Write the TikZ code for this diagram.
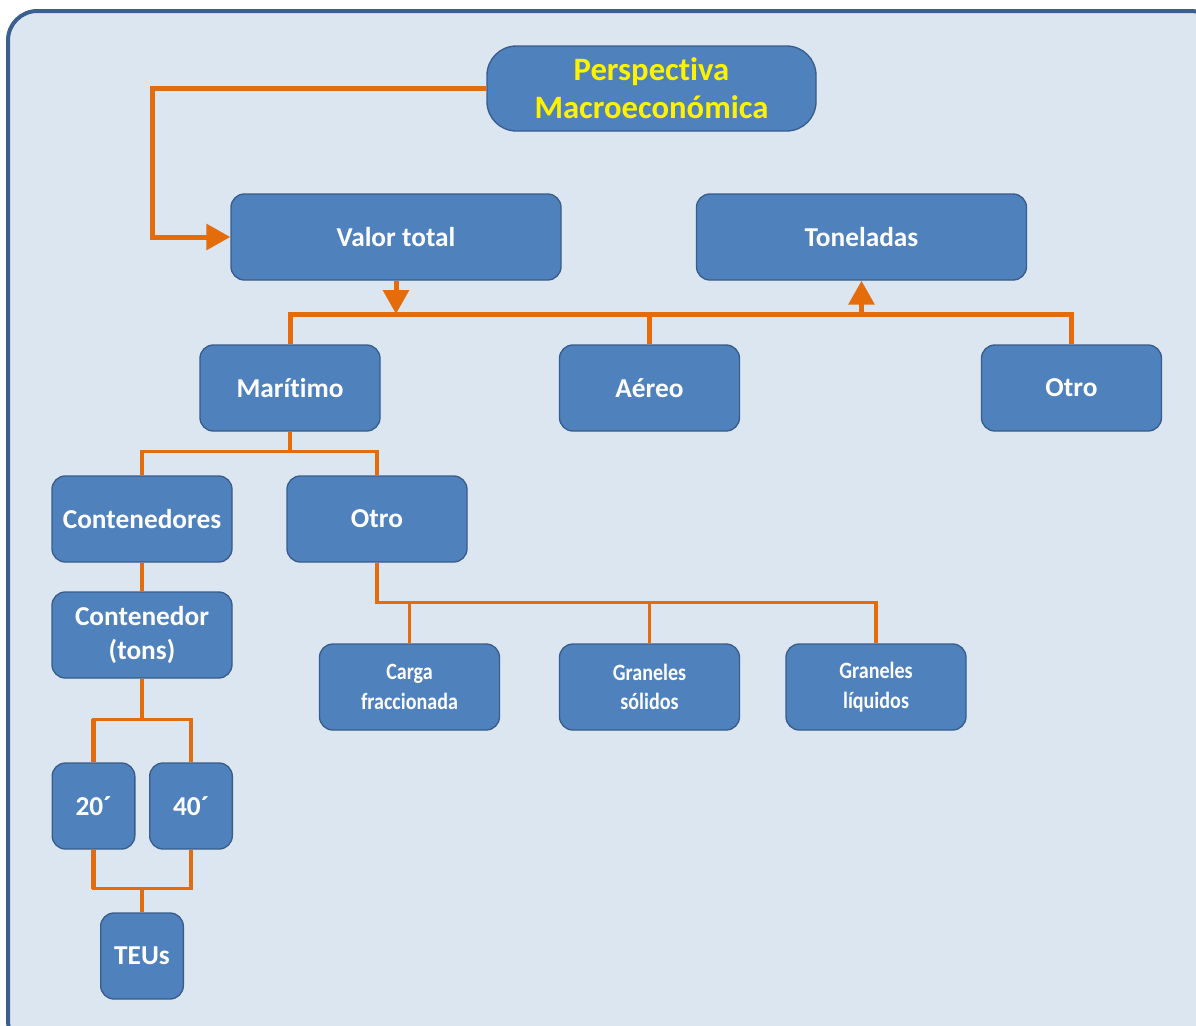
\documentclass[tikz,border=0pt]{standalone}
\usepackage{fontspec}
\setmainfont{Carlito}[Ligatures=NoCommon]
\newfontfamily\narrowfont{Carlito}[FakeStretch=0.86, Ligatures=NoCommon]
\usetikzlibrary{arrows.meta}

\definecolor{bgblue}{HTML}{DCE6F1}
\definecolor{framecol}{HTML}{3B5F8E}
\definecolor{boxfill}{HTML}{4F81BD}
\definecolor{boxline}{HTML}{385D8A}
\definecolor{linkorange}{HTML}{E46C0A}

\tikzset{
  every box/.style={draw=boxline, fill=boxfill, line width=1pt, rounded corners=10pt,
    text=white, align=center, inner sep=0pt,
    font=\fontsize{20.5}{25}\selectfont\bfseries},
  wide box/.style={minimum width=247.5pt, minimum height=64.5pt},
  small box/.style={minimum width=135pt, minimum height=64.5pt},
  tiny box/.style={minimum width=62pt, minimum height=64.5pt},
  narrow text/.style={font=\fontsize{17.5}{22}\narrowfont\bfseries},
  thick link/.style={draw=linkorange, line width=3.75pt},
  thin link/.style={draw=linkorange, line width=2.3pt},
}

\begin{document}
\begin{tikzpicture}[x=0.75pt, y=-0.75pt, >={Triangle[length=18pt,width=19pt]}]

\useasboundingbox (0,0) rectangle (1196,1025);
\draw [framecol, fill=bgblue, line width=3pt, rounded corners=22pt] (8,11) rectangle (1220,1050);

% top level
\node [every box, minimum width=246.75pt, minimum height=63.75pt, rounded corners=22pt,
  text=yellow, font=\fontsize{24.5}{28.5}\selectfont\bfseries] (persp) at (651.5,88.5) {Perspectiva\\Macroeconómica};

\node [every box, wide box] (valor) at (396,237) {Valor total};
\node [every box, wide box] (ton) at (861.5,237) {Toneladas};

% transport modes
\foreach \m/\t/\x in {mar/Marítimo/290, aereo/Aéreo/649.5, otro/Otro/1071.5}
  \node [every box, small box] (\m) at (\x,388) {\t};

\node [every box, small box] (cont) at (142,519) {Contenedores};
\node [every box, small box] (otrom) at (377,519) {Otro};
\node [every box, small box] (conttons) at (142,635) {Contenedor\\(tons)};

\foreach \m/\t/\x in {carga/Carga\\fraccionada/409.5, solidos/Graneles\\sólidos/649.5, liquidos/Graneles\\líquidos/876}
  \node [every box, small box, narrow text] (\m) at (\x,687) {\t};

\node [every box, tiny box] (veinte) at (93.5,806) {20´};
\node [every box, tiny box] (cuarenta) at (191,806) {40´};
\node [every box, tiny box] (teus) at (142,956) {TEUs};

% connectors
\draw [thick link, ->] (persp.west) -- ++(-334,0) |- (valor.west);

\coordinate (bus) at (0,314);
\draw [thick link] (mar.north) |- (otro.north |- bus) -- (otro.north);
\draw [thick link] (aereo.north) -- (aereo.north |- bus);
\draw [thick link, ->] (valor.south) -- (valor.south |- bus);
\draw [thick link, ->] (ton.south |- bus) -- (ton.south);

\draw [thin link] (mar.south) -- ++(0,21);
\draw [thin link] (cont.north) -- ++(0,-24) -| (otrom.north);
\draw [thin link] (cont.south) -- (conttons.north);

\draw [thin link] (otrom.south) -- ++(0,40) -| (liquidos.north);
\foreach \m in {carga, solidos}
  \draw [thin link] (\m.north) -- ++(0,-42);

\draw [thin link] (conttons.south) -- ++(0,42);
\draw [thin link] (veinte.north) -- ++(0,-43) -| (cuarenta.north);
\draw [thin link] (veinte.south) -- ++(0,39) -| (cuarenta.south);
\draw [thick link] (veinte.north) -- ++(0,-43);
\draw [thick link] (veinte.south) -- ++(0,39);
\draw [thin link] (teus.north) -- ++(0,-25);

\end{tikzpicture}
\end{document}
